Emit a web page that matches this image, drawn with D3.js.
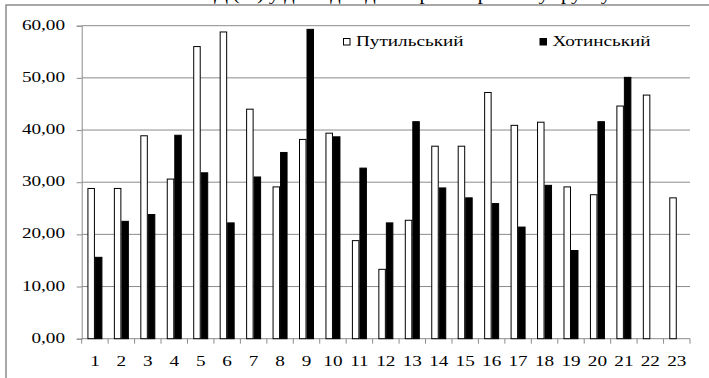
<!DOCTYPE html>
<html>
<head>
<meta charset="utf-8">
<script src="https://cdn.jsdelivr.net/npm/d3@7"></script>
<style>
  body { margin: 0; background: #fff; }
  text { font-family: "Liberation Serif", "Times New Roman", serif; }
</style>
</head>
<body>
<div id="chart"></div>
<script>
// values
const categories = d3.range(1, 24).map(String);
const seriesNames = ['Путильський', 'Хотинський'];
const putylskyi = [28.8, 28.8, 38.9, 30.6, 56.0, 58.8, 44.0, 29.1, 38.2, 39.4, 18.8, 13.3,
                   22.7, 36.9, 36.9, 47.2, 40.9, 41.5, 29.1, 27.6, 44.6, 46.7, 27.0];
const khotynskyi = [15.6, 22.5, 23.8, 39.0, 31.8, 22.2, 31.0, 35.7, 59.3, 38.7, 32.7, 22.2,
                    41.6, 28.9, 27.0, 25.9, 21.4, 29.4, 16.9, 41.6, 50.1, null, null];
const yTicks = [0, 10, 20, 30, 40, 50, 60];

const width = 709, height = 378;
const plotLeft = 81.7, plotRight = 690, plotTop = 25.7, plotBottom = 338.7;
const stretch = 'scale(1.28,1)';

const svg = d3.select('#chart').append('svg')
    .attr('width', width)
    .attr('height', height);

// caption line above the frame, cut off by the picture's top edge
svg.append('text')
    .attr('transform', 'translate(214,0) ' + stretch)
    .attr('font-size', 16)
    .text('Д (%) у дослідах для сортів картоплі у ґрунту');

// chart frame
svg.append('path')
    .attr('d', 'M6,' + height + 'V5H' + width)
    .attr('fill', 'none')
    .attr('stroke', '#8c8c8c')
    .attr('stroke-width', 1.5);

const y = d3.scaleLinear()
    .domain([0, 60])
    .range([plotBottom, plotTop]);

const x0 = d3.scaleBand()
    .domain(categories)
    .range([plotLeft, plotRight])
    .paddingInner(0.433)
    .paddingOuter(0.2165);

const x1 = d3.scaleBand()
    .domain(seriesNames)
    .range([0, x0.bandwidth()]);

// gridlines
svg.append('g')
    .selectAll('line')
    .data(yTicks.filter(d => d > 0))
    .enter().append('line')
    .attr('x1', plotLeft)
    .attr('x2', plotRight)
    .attr('y1', d => y(d))
    .attr('y2', d => y(d))
    .attr('stroke', '#8c8c8c')
    .attr('stroke-width', 1);

// y axis
const yAxis = d3.axisLeft(y)
    .tickValues(yTicks)
    .tickSize(5)
    .tickFormat(d => d3.format('.2f')(d).replace('.', ','));

const yg = svg.append('g')
    .attr('transform', 'translate(' + plotLeft + ',0)')
    .call(yAxis);
yg.select('.domain').attr('stroke', '#8c8c8c');
yg.selectAll('.tick line').attr('stroke', '#8c8c8c');
yg.selectAll('.tick text')
    .attr('x', -13)
    .attr('dy', '0.24em')
    .attr('font-size', 15)
    .attr('font-family', '"Liberation Serif", serif')
    .attr('fill', '#000')
    .attr('transform', stretch);

// x axis: baseline, ticks at category boundaries, centred labels
const edge = (x0.step() - x0.bandwidth()) / 2;
const bounds = categories.map(c => x0(c) - edge).concat([plotRight]);

svg.append('line')
    .attr('x1', plotLeft)
    .attr('x2', plotRight)
    .attr('y1', plotBottom)
    .attr('y2', plotBottom)
    .attr('stroke', '#8c8c8c');

svg.append('g')
    .selectAll('line')
    .data(bounds)
    .enter().append('line')
    .attr('x1', d => d)
    .attr('x2', d => d)
    .attr('y1', plotBottom)
    .attr('y2', plotBottom + 5)
    .attr('stroke', '#8c8c8c');

svg.append('g')
    .selectAll('text')
    .data(categories)
    .enter().append('text')
    .attr('transform', d => 'translate(' + (x0(d) + x0.bandwidth() / 2) + ',' + 366 + ') ' + stretch)
    .attr('text-anchor', 'middle')
    .attr('font-size', 15)
    .text(d => d);

// bars
const rows = categories.map((c, i) => ({ cat: c, values: [putylskyi[i], khotynskyi[i]] }));
const fills = ['#fff', '#000'];

const groups = svg.append('g')
    .selectAll('g')
    .data(rows)
    .enter().append('g')
    .attr('transform', d => 'translate(' + x0(d.cat) + ',0)');

groups.selectAll('rect')
    .data(d => d.values.map((v, k) => ({ name: seriesNames[k], k: k, v: v })).filter(e => e.v != null))
    .enter().append('rect')
    .attr('x', d => x1(d.name) + 0.5)
    .attr('y', d => y(d.v))
    .attr('width', x1.bandwidth() - 1)
    .attr('height', d => plotBottom - y(d.v))
    .attr('fill', d => fills[d.k])
    .attr('stroke', '#000')
    .attr('stroke-width', 1);

// legend
const legendX = [343, 539.5];
const legend = svg.append('g')
    .selectAll('g')
    .data(seriesNames)
    .enter().append('g')
    .attr('transform', (d, i) => 'translate(' + legendX[i] + ',38)');

legend.append('rect')
    .attr('x', 0.5)
    .attr('y', 0.5)
    .attr('width', 6.5)
    .attr('height', 6.5)
    .attr('fill', (d, i) => fills[i])
    .attr('stroke', '#000');

legend.append('text')
    .attr('transform', 'translate(' + 13 + ',8) ' + stretch)
    .attr('font-size', 15)
    .text(d => d);
</script>
</body>
</html>
